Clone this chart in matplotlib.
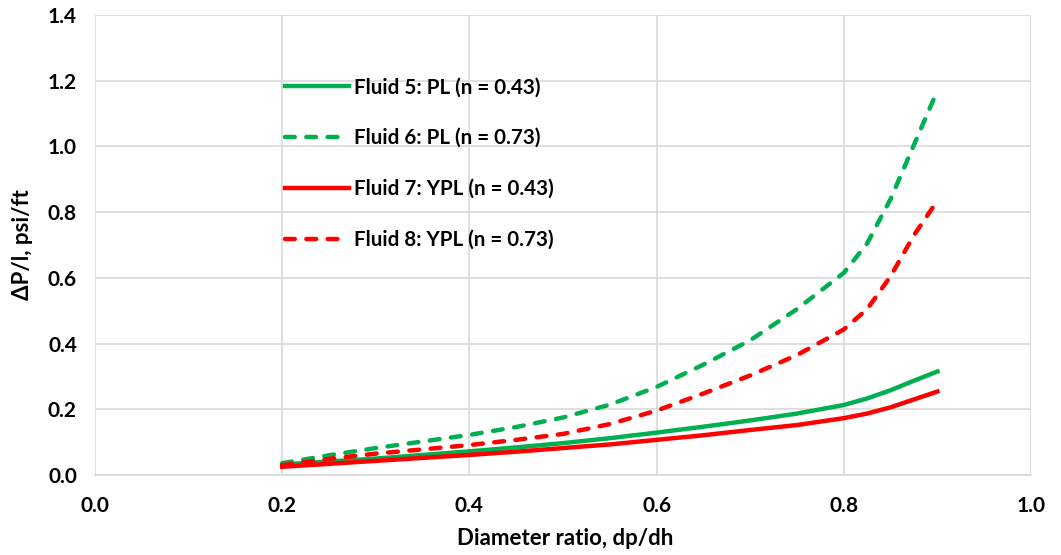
import matplotlib.pyplot as plt
import numpy as np

plt.rcParams['font.family'] = ['Lato', 'DejaVu Sans']
plt.rcParams['font.weight'] = 'bold'

# Diameter ratio dp/dh and pressure gradient (psi/ft)
ratio = [0.2, 0.25, 0.3, 0.35, 0.4, 0.45, 0.5, 0.55, 0.6, 0.65, 0.7, 0.75, 0.8, 0.825, 0.85, 0.875, 0.9]
fluid5 = [0.032, 0.041, 0.050, 0.061, 0.072, 0.084, 0.097, 0.112, 0.129, 0.147, 0.166, 0.187, 0.213, 0.233, 0.258, 0.287, 0.315]
fluid6 = [0.036, 0.060, 0.082, 0.102, 0.122, 0.146, 0.175, 0.214, 0.268, 0.336, 0.410, 0.505, 0.615, 0.705, 0.840, 1.005, 1.170]
fluid7 = [0.025, 0.034, 0.043, 0.052, 0.061, 0.071, 0.082, 0.093, 0.107, 0.121, 0.137, 0.152, 0.173, 0.187, 0.206, 0.230, 0.254]
fluid8 = [0.030, 0.049, 0.065, 0.078, 0.091, 0.107, 0.125, 0.155, 0.196, 0.248, 0.303, 0.365, 0.443, 0.505, 0.605, 0.730, 0.835]

labels = ['Fluid 5: PL (n = 0.43)', 'Fluid 6: PL (n = 0.73)',
          'Fluid 7: YPL (n = 0.43)', 'Fluid 8: YPL (n = 0.73)']

green = '#00b050'
red = '#ff0000'
dash = dict(dashes=(2.2, 2.6), dash_capstyle='round')

fig = plt.figure(figsize=(10.61, 5.55), dpi=100)
ax = fig.add_axes([95 / 1061, 1 - 475 / 555, 936 / 1061, 460 / 555])

ax.plot(ratio, fluid5, color=green, lw=3.2, label=labels[0])
ax.plot(ratio, fluid6, color=green, lw=3.2, label=labels[1], **dash)
ax.plot(ratio, fluid7, color=red, lw=3.2, label=labels[2])
ax.plot(ratio, fluid8, color=red, lw=3.2, label=labels[3], **dash)

ax.set_xlim(0, 1.0)
ax.set_ylim(0, 1.4)
ax.set_xticks(np.arange(0, 1.01, 0.2))
ax.set_yticks(np.arange(0, 1.41, 0.2))
ax.xaxis.set_major_formatter(plt.FormatStrFormatter('%.1f'))
ax.yaxis.set_major_formatter(plt.FormatStrFormatter('%.1f'))
ax.tick_params(length=0, labelsize=15)
ax.tick_params(axis='x', pad=15)
ax.tick_params(axis='y', pad=13)
ax.grid(True, color='#d9d9d9', lw=1.2)
ax.set_axisbelow(True)
for s in ['top', 'right', 'left']:
    ax.spines[s].set_visible(False)
ax.spines['bottom'].set_color('#d9d9d9')
ax.spines['bottom'].set_linewidth(1.2)

ax.set_xlabel('Diameter ratio, dp/dh', fontsize=16, fontweight='bold')
ax.set_ylabel('\u0394P/l, psi/ft', fontsize=16, fontweight='bold')
ax.xaxis.set_label_coords(0.502, -0.115)
ax.yaxis.set_label_coords(-0.066, 0.5)

leg = ax.legend(loc='upper left', bbox_to_anchor=(0.183, 0.905), frameon=False,
                fontsize=14.8, handlelength=3.1, handletextpad=0.25, labelspacing=1.5)

fig.savefig('out.png', dpi=100)
